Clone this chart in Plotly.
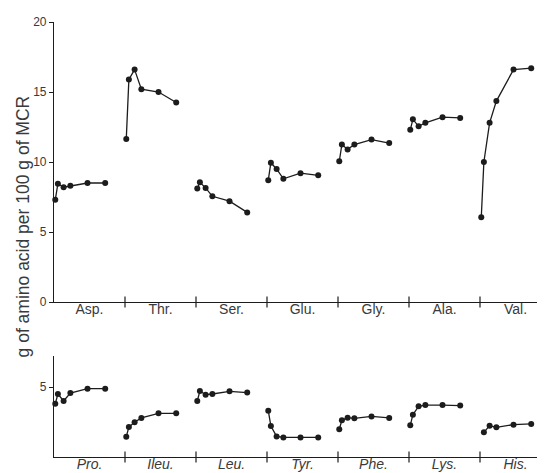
import plotly.graph_objects as go

# sampling times (hours) common to every amino acid series
hours = [0, 1.25, 4, 7.25, 15.5, 24]

top_categories = ["Asp.", "Thr.", "Ser.", "Glu.", "Gly.", "Ala.", "Val."]
asp = [7.3, 8.45, 8.2, 8.3, 8.5, 8.5]
thr = [11.65, 15.9, 16.6, 15.2, 15.0, 14.25]
ser = [8.1, 8.55, 8.15, 7.55, 7.2, 6.4]
glu = [8.7, 9.95, 9.5, 8.8, 9.2, 9.05]
gly = [10.05, 11.25, 10.9, 11.25, 11.6, 11.35]
ala = [12.3, 13.05, 12.55, 12.8, 13.2, 13.15]
val = [6.05, 10.0, 12.8, 14.35, 16.6, 16.7]
top_values = [asp, thr, ser, glu, gly, ala, val]

bottom_categories = ["Pro.", "Ileu.", "Leu.", "Tyr.", "Phe.", "Lys.", "His."]
pro = [3.8, 4.5, 4.0, 4.57, 4.88, 4.88]
ileu = [1.45, 2.14, 2.48, 2.79, 3.12, 3.12]
leu = [4.0, 4.71, 4.45, 4.5, 4.69, 4.6]
tyr = [3.31, 2.21, 1.47, 1.4, 1.4, 1.4]
phe = [1.98, 2.62, 2.81, 2.76, 2.9, 2.79]
lys = [2.26, 3.02, 3.62, 3.71, 3.71, 3.67]
his = [None, 1.76, 2.24, 2.12, 2.31, 2.36]
bottom_values = [pro, ileu, leu, tyr, phe, lys, his]

top_yticks = [0, 5, 10, 15, 20]
bottom_yticks = [5]
y_title = "g of amino acid per 100 g of MCR"

INK = "#1c1c1c"
TXT = "#3a3a3a"
FONT = "Liberation Sans"

def xpos(i):
    return [i + 0.018 + h * 0.0293 for h in hours]

fig = go.Figure()

for yref, xref, cats, vals in [("y", "x", top_categories, top_values),
                               ("y2", "x2", bottom_categories, bottom_values)]:
    for i, (c, v) in enumerate(zip(cats, vals)):
        fig.add_trace(go.Scatter(
            x=xpos(i), y=v, mode="lines+markers", name=c,
            xaxis=xref, yaxis=yref, connectgaps=False,
            line=dict(color=INK, width=1.3),
            marker=dict(color=INK, size=6),
            showlegend=False, cliponaxis=False, hoverinfo="skip"))
    n = len(cats)
    fig.add_trace(go.Scatter(
        x=list(range(1, n)), y=[0] * (n - 1), mode="markers",
        xaxis=xref, yaxis=yref,
        marker=dict(symbol="line-ns", size=8, line=dict(color=INK, width=1.2)),
        showlegend=False, cliponaxis=False, hoverinfo="skip"))

n = len(top_categories)
xr = [0, n * 499 / 497]
common_x = dict(range=xr, showgrid=False, zeroline=False, showline=True,
                linecolor=INK, linewidth=1.2, ticks="", tickmode="array",
                tickvals=[i + 0.5 for i in range(n)],
                ticklabelstandoff=-6)
common_y = dict(showgrid=False, zeroline=False, showline=True, linecolor=INK,
                linewidth=1.2, ticks="outside", ticklen=4, tickcolor=INK,
                tickfont=dict(family=FONT, size=12, color=TXT))

fig.update_layout(
    width=545, height=473,
    margin=dict(l=46, r=0, t=14, b=24),
    paper_bgcolor="white", plot_bgcolor="white",
    xaxis=dict(**common_x, ticktext=top_categories, anchor="y",
               tickfont=dict(family=FONT, size=14, color=TXT)),
    yaxis=dict(**common_y, domain=[155 / 435, 1], range=[0, 20],
               tickvals=top_yticks, anchor="x"),
    xaxis2=dict(**common_x, ticktext=["<i>%s</i>" % c for c in bottom_categories],
                anchor="y2", tickfont=dict(family=FONT, size=14, color=TXT)),
    yaxis2=dict(**common_y, domain=[0, 101 / 435], range=[0, 101 / 14],
                tickvals=bottom_yticks, anchor="x2"),
    annotations=[dict(text=y_title, xref="paper", yref="paper",
                      x=-31 / 499, y=0.53, xanchor="center", yanchor="middle",
                      textangle=-90, showarrow=False,
                      font=dict(family=FONT, size=17.5, color=TXT))],
)

fig.write_html("out.html")
